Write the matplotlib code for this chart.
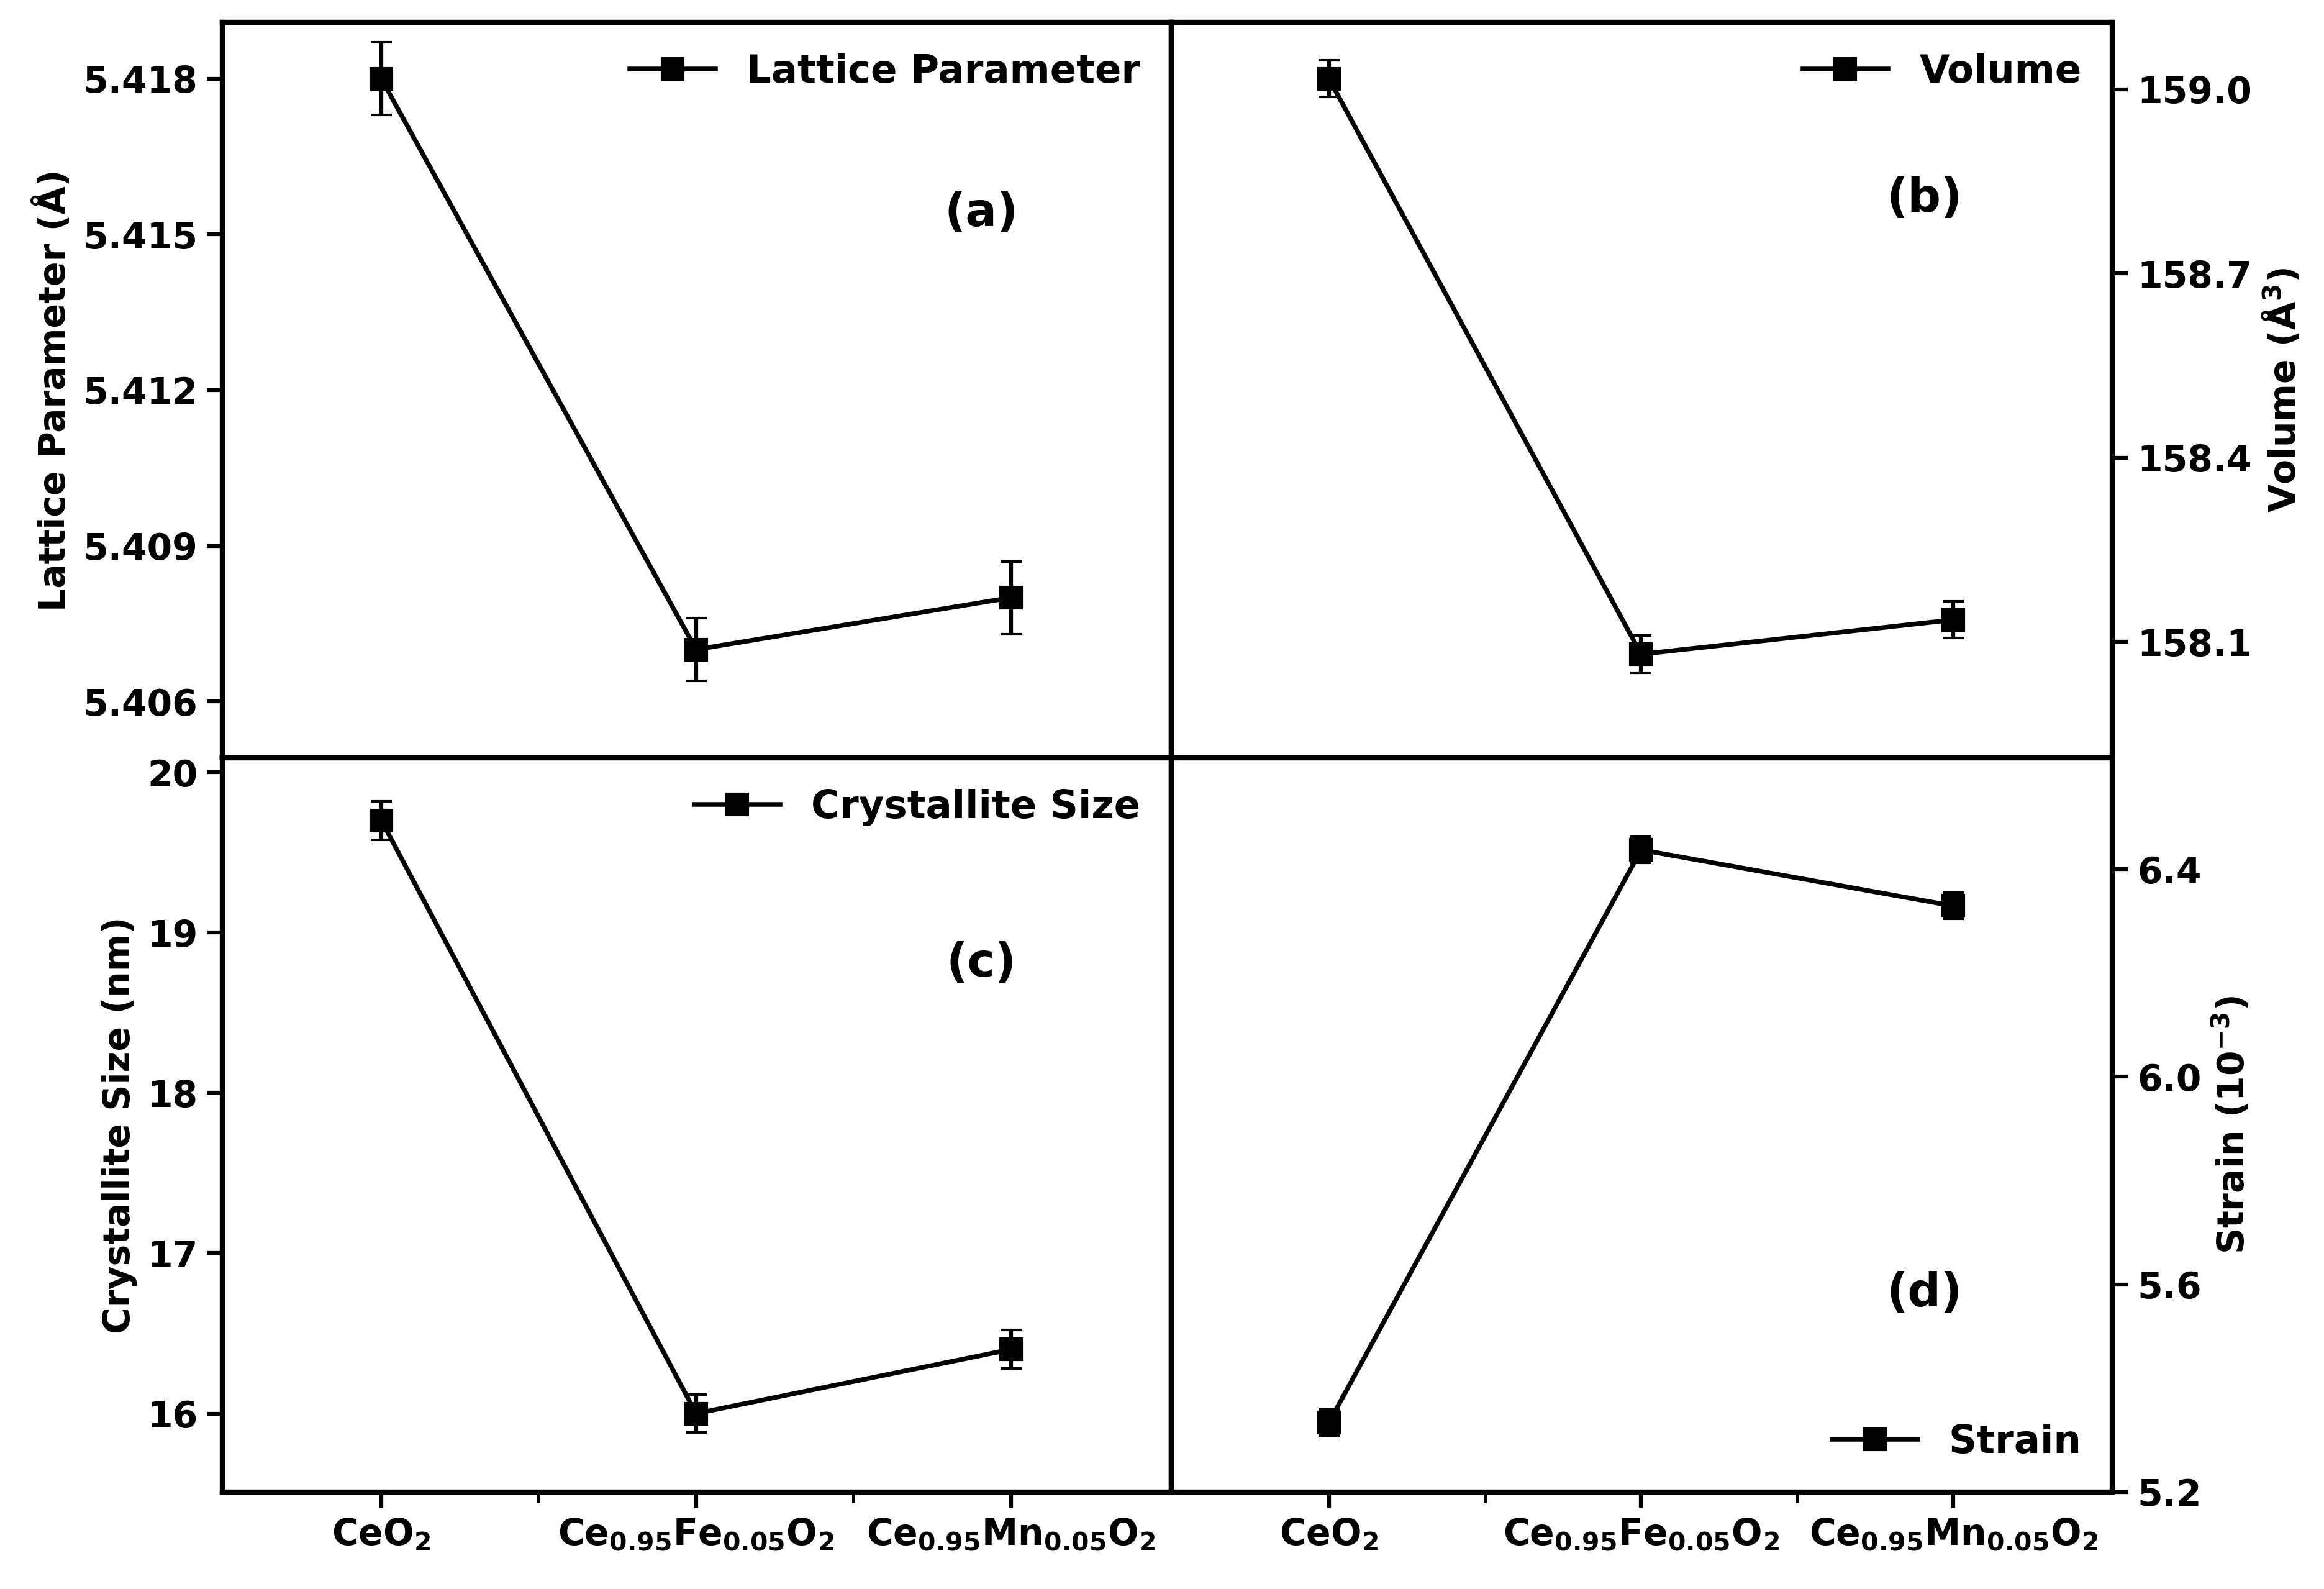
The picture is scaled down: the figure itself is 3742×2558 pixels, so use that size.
import matplotlib
matplotlib.use('Agg')
import matplotlib.pyplot as plt
from matplotlib.lines import Line2D
import numpy as np

samples = [r'$\mathbf{CeO_2}$', r'$\mathbf{Ce_{0.95}Fe_{0.05}O_2}$', r'$\mathbf{Ce_{0.95}Mn_{0.05}O_2}$']
lattice = [5.418, 5.407, 5.408]
lattice_err = [0.0007, 0.0006, 0.0007]
volume = [159.017, 158.08, 158.136]
volume_err = [0.03, 0.03, 0.03]
size = [19.7, 16.0, 16.4]
size_err = [0.12, 0.12, 0.12]
strain = [5.334, 6.437, 6.329]
strain_err = [0.025, 0.025, 0.025]

plt.rcParams['font.family'] = ['DejaVu Sans']
plt.rcParams['font.weight'] = 'bold'
plt.rcParams['mathtext.default'] = 'bf'
fig = plt.figure(figsize=(3742/300, 2558/300), dpi=300)
L, M, R = 0.0957, 0.504, 0.909
T, C, B = 0.986, 0.523, 0.061
axa = fig.add_axes([L, C, M-L, T-C])
axb = fig.add_axes([M, C, R-M, T-C])
axc = fig.add_axes([L, B, M-L, C-B])
axd = fig.add_axes([M, B, R-M, C-B])
x = np.arange(3)

def draw(ax, y, e, lab, ylim, ticks, fmt, ylabel, right, tag, tagpos, legloc, bottom):
    ax.errorbar(x, y, yerr=e, color='k', marker='s', ms=8, lw=1.8, capsize=4, elinewidth=1.5)
    ax.set_xlim(-0.505, 2.51)
    ax.set_ylim(*ylim)
    ax.set_yticks(ticks)
    ax.set_yticklabels([fmt % t for t in ticks])
    ax.set_xticks(x)
    ax.set_xticks([0.5, 1.5], minor=True)
    if bottom:
        ax.set_xticklabels(samples, fontsize=15)
    else:
        ax.set_xticklabels([])
    ax.tick_params(direction='out', width=1.5, length=6, labelsize=14)
    ax.tick_params(which='minor', direction='out', width=1.2, length=4)
    if right:
        ax.yaxis.tick_right()
        ax.yaxis.set_label_position('right')
        ax.tick_params(axis='y', left=False)
    else:
        ax.tick_params(axis='y', right=False)
    if not bottom:
        ax.tick_params(axis='x', bottom=False, which='both')
    ax.set_ylabel(ylabel, fontsize=14, fontweight='bold')
    for s in ax.spines.values():
        s.set_linewidth(2)
    ax.text(*tagpos, tag, transform=ax.transAxes, fontsize=18, fontweight='bold', ha='center', va='center')
    h = Line2D([], [], color='k', marker='s', ms=8, lw=1.8)
    leg = ax.legend([h], [lab], loc=legloc, frameon=False, fontsize=15, handlelength=2.2, borderaxespad=0.4)
    for t in leg.get_texts():
        t.set_fontweight('bold')

draw(axa, lattice, lattice_err, 'Lattice Parameter', (5.40491, 5.41909),
     [5.406, 5.409, 5.412, 5.415, 5.418], '%.3f', 'Lattice Parameter (Å)', False, '(a)', (0.8, 0.74), 'upper right', False)
draw(axb, volume, volume_err, 'Volume', (157.911, 159.109),
     [158.1, 158.4, 158.7, 159.0], '%.1f', r'Volume (Å$^3$)', True, '(b)', (0.8, 0.76), 'upper right', False)
draw(axc, size, size_err, 'Crystallite Size', (15.51, 20.09),
     [16, 17, 18, 19, 20], '%d', 'Crystallite Size (nm)', False, '(c)', (0.8, 0.72), 'upper right', True)
draw(axd, strain, strain_err, 'Strain', (5.2, 6.614),
     [5.2, 5.6, 6.0, 6.4], '%.1f', r'Strain (10$^{-3}$)', True, '(d)', (0.8, 0.27), 'lower right', True)

fig.savefig('out.png', dpi=300)
